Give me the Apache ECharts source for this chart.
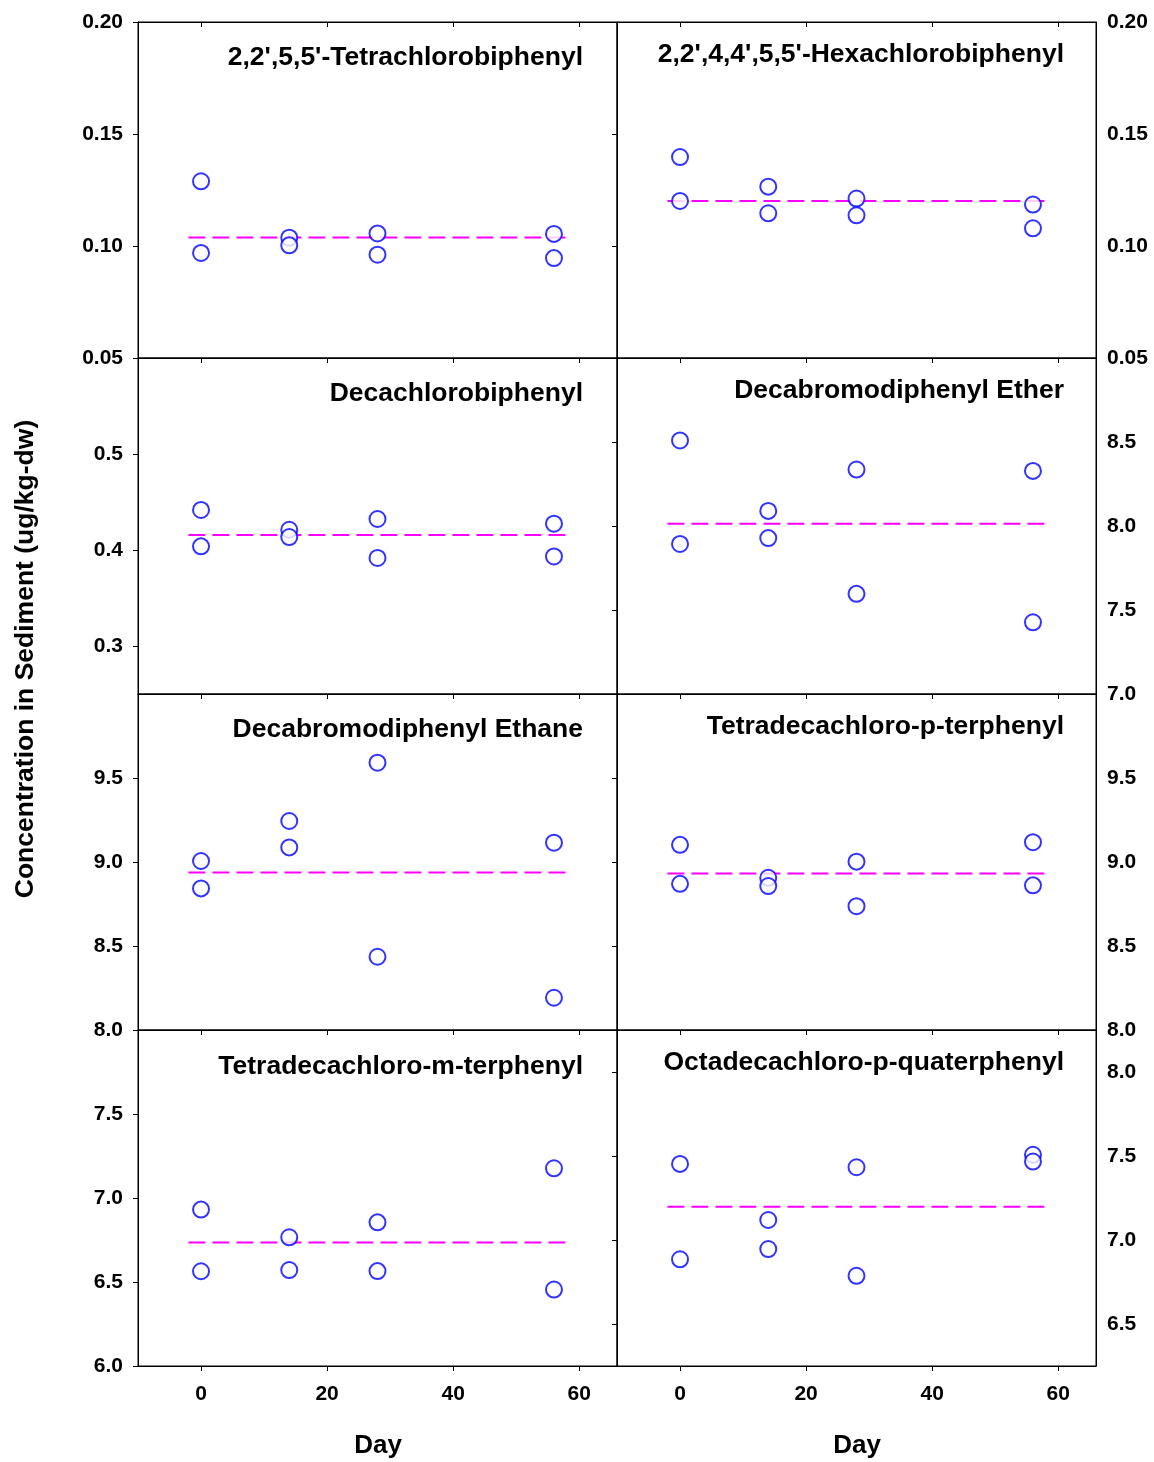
<!DOCTYPE html>
<html><head><meta charset="utf-8">
<script src="https://cdn.jsdelivr.net/npm/echarts@6/dist/echarts.min.js"></script>
<style>html,body{margin:0;padding:0;background:#fff}#c{width:1154px;height:1462px}</style>
</head><body><div id="c"></div><script>
// ---- data ----
const days = [0, 14, 28, 56];
const dayTicks = [0, 20, 40, 60];
const panelTitles = [
  "2,2',5,5'-Tetrachlorobiphenyl",
  "2,2',4,4',5,5'-Hexachlorobiphenyl",
  "Decachlorobiphenyl",
  "Decabromodiphenyl Ether",
  "Decabromodiphenyl Ethane",
  "Tetradecachloro-p-terphenyl",
  "Tetradecachloro-m-terphenyl",
  "Octadecachloro-p-quaterphenyl"
];
const tetraCB_A = [0.1289, 0.1037, 0.1056, 0.1054];
const tetraCB_B = [0.0969, 0.1003, 0.0961, 0.0946];
const hexaCB_A = [0.1397, 0.1265, 0.1212, 0.1185];
const hexaCB_B = [0.1201, 0.1146, 0.1137, 0.1079];
const decaCB_A = [0.4417, 0.4211, 0.4323, 0.4274];
const decaCB_B = [0.4038, 0.4135, 0.3917, 0.3933];
const dbde_A = [8.509, 8.090, 8.336, 8.328];
const dbde_B = [7.893, 7.928, 7.596, 7.427];
const dbdethane_A = [9.006, 9.244, 9.591, 9.115];
const dbdethane_B = [8.843, 9.087, 8.436, 8.192];
const pTer_A = [9.102, 8.906, 9.002, 9.118];
const pTer_B = [8.870, 8.857, 8.737, 8.861];
const mTer_A = [6.931, 6.766, 6.855, 7.177];
const mTer_B = [6.564, 6.571, 6.565, 6.455];
const pQuat_A = [7.453, 7.119, 7.433, 7.507];
const pQuat_B = [6.885, 6.946, 6.787, 7.467];
const meanValues = [0.1038, 0.1201, 0.4156, 8.014, 8.938, 8.932, 6.735, 7.198];
const meanLineDays = [-2, 58];
const yMin = [0.05, 0.05, 0.25, 7.0, 8.0, 8.0, 6.0, 6.25];
const yMax = [0.20, 0.20, 0.60, 9.0, 10.0, 10.0, 8.0, 8.25];
const yTickValues = [
  [0.05, 0.10, 0.15, 0.20], [0.05, 0.10, 0.15, 0.20],
  [0.3, 0.4, 0.5], [7.0, 7.5, 8.0, 8.5, 9.0],
  [8.0, 8.5, 9.0, 9.5], [8.0, 8.5, 9.0, 9.5],
  [6.0, 6.5, 7.0, 7.5], [6.5, 7.0, 7.5, 8.0]
];
const yLabelValues = [
  [0.05, 0.10, 0.15, 0.20], [0.05, 0.10, 0.15, 0.20],
  [0.3, 0.4, 0.5], [7.0, 7.5, 8.0, 8.5],
  [8.0, 8.5, 9.0, 9.5], [8.0, 8.5, 9.0, 9.5],
  [6.0, 6.5, 7.0, 7.5], [6.5, 7.0, 7.5, 8.0]
];
const yDecimals = [2, 2, 1, 1, 1, 1, 1, 1];
const replicatesA = [tetraCB_A, hexaCB_A, decaCB_A, dbde_A, dbdethane_A, pTer_A, mTer_A, pQuat_A];
const replicatesB = [tetraCB_B, hexaCB_B, decaCB_B, dbde_B, dbdethane_B, pTer_B, mTer_B, pQuat_B];

// ---- layout / style ----
const FONT = '"Liberation Sans", Arial, Helvetica, sans-serif';
const colLeft = [138, 617], colW = 479, rowTop0 = 22, rowH = 336;
const titleRight = [583, 1064];
const titleY = [[58, 55], [394, 391], [730, 727], [1067, 1063]];
const lineColor = '#000';
const tickFont = 21, bigFont = 26.5;

const grids = [], xAxes = [], yAxes = [], series = [], graphics = [];
for (let i = 0; i < 8; i++) {
  const row = Math.floor(i / 2), col = i % 2;
  grids.push({left: colLeft[col], top: rowTop0 + row * rowH, width: colW, height: rowH,
    show: true, borderColor: lineColor, borderWidth: 1, backgroundColor: 'transparent'});
  const isBottom = row === 3;
  xAxes.push({type: 'value', gridIndex: i, min: -10, max: 66, position: 'bottom',
    axisLine: {show: true, onZero: false, lineStyle: {color: lineColor, width: 1}},
    axisTick: {show: true, inside: false, length: 5, customValues: dayTicks, lineStyle: {color: lineColor}},
    axisLabel: {show: isBottom, customValues: dayTicks, margin: 18, fontFamily: FONT, fontWeight: 'bold', fontSize: tickFont, color: '#000'},
    splitLine: {show: false}});
  xAxes.push({type: 'value', gridIndex: i, min: -10, max: 66, position: 'top',
    axisLine: {show: true, onZero: false, lineStyle: {color: lineColor, width: 1}},
    axisTick: {show: true, inside: true, length: 5, customValues: dayTicks, lineStyle: {color: lineColor}},
    axisLabel: {show: false}, splitLine: {show: false}});
  const fmt = v => Number(v).toFixed(yDecimals[i]);
  yAxes.push({type: 'value', gridIndex: i, min: yMin[i], max: yMax[i], position: 'left',
    axisLine: {show: true, onZero: false, lineStyle: {color: lineColor, width: 1}},
    axisTick: {show: true, inside: false, length: 5, customValues: yTickValues[i], lineStyle: {color: lineColor}},
    axisLabel: {show: col === 0, customValues: yLabelValues[i], formatter: fmt, margin: 15,
      fontFamily: FONT, fontWeight: 'bold', fontSize: tickFont, color: '#000'},
    splitLine: {show: false}});
  const yIdxMain = yAxes.length - 1;
  if (col === 1) {
    yAxes.push({type: 'value', gridIndex: i, min: yMin[i], max: yMax[i], position: 'right',
      axisLine: {show: true, onZero: false, lineStyle: {color: lineColor, width: 1}},
      axisTick: {show: false},
      axisLabel: {show: true, customValues: yLabelValues[i], formatter: fmt, margin: 11,
        fontFamily: FONT, fontWeight: 'bold', fontSize: tickFont, color: '#000'},
      splitLine: {show: false}});
  }
  const xIdx = i * 2;
  series.push({type: 'line', xAxisIndex: xIdx, yAxisIndex: yIdxMain, symbol: 'none', silent: true,
    data: meanLineDays.map(d => [d, meanValues[i]]),
    lineStyle: {color: '#ff00ff', width: 2, type: [17, 7]}, z: 2});
  const pts = [];
  days.forEach((d, k) => { pts.push([d, replicatesA[i][k]]); pts.push([d, replicatesB[i][k]]); });
  series.push({type: 'scatter', xAxisIndex: xIdx, yAxisIndex: yIdxMain, data: pts,
    symbol: 'emptyCircle', symbolSize: 16,
    itemStyle: {color: '#0000ff', borderColor: '#0000ff', borderWidth: 2.2}, z: 3});
  graphics.push({type: 'text', x: titleRight[col], y: titleY[row][col],
    style: {text: panelTitles[i], fill: '#000', font: 'bold ' + bigFont + 'px ' + FONT, textAlign: 'right', textVerticalAlign: 'middle'}});
}
graphics.push({type: 'text', x: 26, y: 659, rotation: Math.PI / 2,
  style: {text: 'Concentration in Sediment (ug/kg-dw)', fill: '#000', font: 'bold ' + bigFont + 'px ' + FONT, textAlign: 'center', textVerticalAlign: 'middle'}});
graphics.push({type: 'text', x: 378, y: 1446,
  style: {text: 'Day', fill: '#000', font: 'bold 26px ' + FONT, textAlign: 'center', textVerticalAlign: 'middle'}});
graphics.push({type: 'text', x: 857, y: 1446,
  style: {text: 'Day', fill: '#000', font: 'bold 26px ' + FONT, textAlign: 'center', textVerticalAlign: 'middle'}});

const chart = echarts.init(document.getElementById('c'), null, {renderer: 'canvas'});
chart.setOption({animation: false, backgroundColor: '#fff', grid: grids, xAxis: xAxes, yAxis: yAxes, series: series, graphic: graphics});
</script></body></html>
